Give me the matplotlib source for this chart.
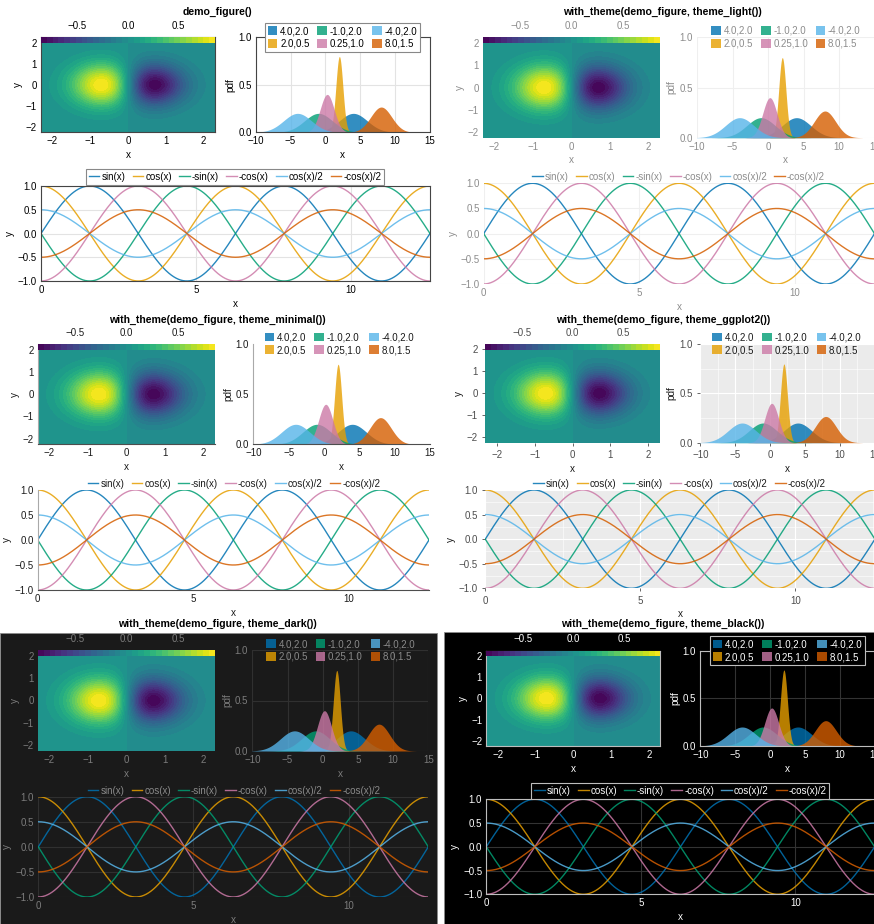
import matplotlib
matplotlib.use('Agg')
import matplotlib.pyplot as plt
from matplotlib.patches import Rectangle, Patch
from matplotlib.lines import Line2D
from matplotlib.ticker import MultipleLocator
import numpy as np

plt.rcParams.update({
    'font.family': ['Liberation Sans', 'DejaVu Sans'],
    'axes.unicode_minus': True,
})

W, H = 874, 924

# Wong palette (Makie default cycle)
WONG = ['#0072B2', '#E69F00', '#009E73', '#CC79A7', '#56B4E9', '#D55E00']

# density series: mean / std as shown in the legend
DENS_MU = [4.0, 2.0, -1.0, 0.25, -4.0, 8.0]
DENS_SD = [2.0, 0.5, 2.0, 1.0, 2.0, 1.5]
DENS_LABELS = ['4.0,2.0', '2.0,0.5', '-1.0,2.0', '0.25,1.0', '-4.0,2.0', '8.0,1.5']
DENS_XTICKS = [-10, -5, 0, 5, 10, 15]
DENS_YTICKS = [0.0, 0.5, 1.0]

# line series
LINE_LABELS = ['sin(x)', 'cos(x)', '-sin(x)', '-cos(x)', 'cos(x)/2', '-cos(x)/2']
LINE_FUNCS = [np.sin, np.cos,
              lambda x: -np.sin(x), lambda x: -np.cos(x),
              lambda x: np.cos(x) / 2, lambda x: -np.cos(x) / 2]
LINE_XMAX = 4 * np.pi
LINE_XTICKS = [0, 5, 10]
LINE_YTICKS = [-1.0, -0.5, 0.0, 0.5, 1.0]

# contour field  f = -A * x * exp(-(x^2 + y^2))
FIELD_AMP = 2.0
CONT_XLIM = 2.3
CONT_YLIM = 2.25
CONT_TICKS = [-2, -1, 0, 1, 2]
CB_TICKS = [-0.5, 0.0, 0.5]
N_LEVELS = 31

THEMES = {
    'default': dict(bg=None, ax_bg='white', tick_label='black', tick_color='black', tick_len=0,
                    label='black', spines={s: '#444444' for s in ('left', 'right', 'top', 'bottom')},
                    grid='#E3E3E3', minor=None, leg_edge='#888888', leg_bg='white', leg_text='black'),
    'light': dict(bg=None, ax_bg='white', tick_label='#8C8C8C', tick_color='#8C8C8C', tick_len=0,
                  label='#8C8C8C', spines={}, grid='#EFEFEF', minor=None,
                  leg_edge=None, leg_bg='none', leg_text='#8C8C8C'),
    'minimal': dict(bg=None, ax_bg='white', tick_label='#1A1A1A', tick_color='#A9A9A9', tick_len=0,
                    label='#1A1A1A', spines={'left': '#A9A9A9', 'bottom': '#4D4D4D'}, grid=None, minor=None,
                    leg_edge=None, leg_bg='none', leg_text='#1A1A1A'),
    'ggplot2': dict(bg=None, ax_bg='#EBEBEB', tick_label='#4D4D4D', tick_color='#4D4D4D', tick_len=2.5,
                    label='#1A1A1A', spines={}, grid='white', minor='white',
                    leg_edge=None, leg_bg='none', leg_text='#1A1A1A'),
    'dark': dict(bg='#1A1A1A', ax_bg='#1A1A1A', tick_label='#7C7C7C', tick_color='#7C7C7C', tick_len=0,
                 label='#7C7C7C', spines={}, grid='#303030', minor=None,
                 leg_edge=None, leg_bg='none', leg_text='#8A8A8A'),
    'black': dict(bg='black', ax_bg='black', tick_label='white', tick_color='white', tick_len=0,
                  label='white', spines={s: '#BDBDBD' for s in ('left', 'right', 'top', 'bottom')},
                  grid='#333333', minor=None, leg_edge='#BDBDBD', leg_bg='black', leg_text='white'),
}

# layout of every sub-figure, pixel boxes (x0, y0, x1, y1)
PANELS = [
    dict(title='demo_figure()', tpos=(217, 12), theme='default', bg=None,
         cont=(41, 37.3, 215, 132.3), cbh=5.4,
         dens=(255.7, 37.3, 430, 132.3), dleg=(342.4, 37.5),
         line=(41, 186, 430, 281), lleg=(235, 176.7)),
    dict(title='with_theme(demo_figure, theme_light())', tpos=(662.7, 12), theme='light', bg=None,
         cont=(483, 37.3, 659.7, 137.7), cbh=5.4,
         dens=(697, 37.3, 874.7, 137.7), dleg=(786, 37.2),
         line=(483.7, 183.3, 874.5, 284), lleg=(678.7, 177.3)),
    dict(title='with_theme(demo_figure, theme_minimal())', tpos=(217.5, 320), theme='minimal', bg=None,
         cont=(37.7, 344, 215, 444.3), cbh=6,
         dens=(253.3, 344, 430, 444.3), dleg=(339.3, 343.7),
         line=(37.7, 490, 429, 590), lleg=(234, 484.3)),
    dict(title='with_theme(demo_figure, theme_ggplot2())', tpos=(662.7, 320), theme='ggplot2', bg=None,
         cont=(485.3, 344, 659.7, 442.7), cbh=6,
         dens=(700.3, 344, 874.5, 442.7), dleg=(787, 343.7),
         line=(485.3, 490, 874.9, 588.3), lleg=(679.3, 484.3)),
    dict(title='with_theme(demo_figure, theme_dark())', tpos=(217.8, 624.3), theme='dark',
         bg=(0, 633.3, 437, 924),
         cont=(37.7, 650, 215, 751), cbh=6,
         dens=(252.3, 650, 428.3, 751), dleg=(340.8, 650.5),
         line=(38.3, 796.7, 428.3, 897), lleg=(234, 790.7)),
    dict(title='with_theme(demo_figure, theme_black())', tpos=(663, 624.3), theme='black',
         bg=(443.7, 632.3, 874, 924),
         cont=(486.3, 650.7, 660.3, 746), cbh=5.6,
         dens=(700.3, 650.7, 874.5, 746), dleg=(787.2, 650.7),
         line=(486.3, 799.3, 874.6, 894.3), lleg=(680.3, 790.8)),
]

FS = 7.0


def fbox(x0, y0, x1, y1):
    return [x0 / W, 1 - y1 / H, (x1 - x0) / W, (y1 - y0) / H]


def fpt(x, y):
    return (x / W, 1 - y / H)


def style_axes(ax, th, grid=True):
    ax.set_facecolor(th['ax_bg'])
    for side in ('left', 'right', 'top', 'bottom'):
        c = th['spines'].get(side)
        ax.spines[side].set_visible(c is not None)
        if c:
            ax.spines[side].set_color(c)
            ax.spines[side].set_linewidth(0.8)
    ax.tick_params(which='both', labelsize=FS, colors=th['tick_color'], labelcolor=th['tick_label'],
                   length=th['tick_len'], width=0.6, pad=3, direction='out')
    ax.tick_params(which='minor', length=0)
    if grid and th['grid']:
        ax.grid(True, which='major', color=th['grid'], lw=0.8)
        if th['minor']:
            ax.grid(True, which='minor', color=th['minor'], lw=0.4)
        ax.set_axisbelow(True)


def make_legend(ax, fig, th, handles, labels, center, ncol, hl, htp, cs):
    leg = ax.legend(handles, labels, loc='center', bbox_to_anchor=fpt(*center),
                    bbox_transform=fig.transFigure, ncol=ncol, fontsize=7,
                    frameon=True, fancybox=False, framealpha=1,
                    facecolor=th['leg_bg'], edgecolor=th['leg_edge'] or 'none',
                    handlelength=hl, handleheight=1.0, handletextpad=htp,
                    columnspacing=cs, labelspacing=0.3, borderpad=0.3,
                    labelcolor=th['leg_text'])
    leg.get_frame().set_linewidth(0.8)
    leg.set_zorder(10)
    return leg


fig = plt.figure(figsize=(W / 100, H / 100), dpi=100)
fig.patch.set_facecolor('white')

# contour grid
gx = np.linspace(-CONT_XLIM, CONT_XLIM, 240)
gy = np.linspace(-CONT_YLIM, CONT_YLIM, 240)
GX, GY = np.meshgrid(gx, gy)
GZ = -FIELD_AMP * GX * np.exp(-(GX ** 2 + GY ** 2))
zmax = FIELD_AMP / np.sqrt(2) * np.exp(-0.5)
levels = np.linspace(-zmax, zmax, N_LEVELS)

lx = np.linspace(0, LINE_XMAX, 500)

for p in PANELS:
    th = THEMES[p['theme']]
    if p['bg']:
        x0, y0, x1, y1 = p['bg']
        r = fbox(x0, y0, x1, y1)
        fig.add_artist(Rectangle((r[0], r[1]), r[2], r[3], transform=fig.transFigure,
                                 facecolor=th['bg'], edgecolor='#8A8A8A', lw=0.6, zorder=-5))
    fig.text(*fpt(*p['tpos']), p['title'], ha='center', va='center',
             fontsize=7.6, fontweight='bold', color='black')

    # --- contour + colorbar
    cx0, cy0, cx1, cy1 = p['cont']
    axc = fig.add_axes(fbox(cx0, cy0, cx1, cy1))
    style_axes(axc, th, grid=False)
    cs = axc.contourf(GX, GY, GZ, levels=levels, cmap='viridis')
    axc.set_xlim(-CONT_XLIM, CONT_XLIM)
    axc.set_ylim(-CONT_YLIM, CONT_YLIM)
    axc.set_xticks(CONT_TICKS)
    axc.set_yticks(CONT_TICKS)
    axc.set_xlabel('x', fontsize=7.2, color=th['label'], labelpad=2.5)
    axc.set_ylabel('y', fontsize=7.2, color=th['label'], labelpad=2)

    cax = fig.add_axes(fbox(cx0, cy0, cx1, cy0 + p['cbh']))
    cb = fig.colorbar(cs, cax=cax, orientation='horizontal', ticks=CB_TICKS)
    cb.outline.set_visible(False)
    cax.xaxis.set_ticks_position('top')
    cax.tick_params(length=0, pad=4.5, labelsize=FS, labelcolor=th['tick_label'])

    # --- densities
    axd = fig.add_axes(fbox(*p['dens']))
    style_axes(axd, th)
    if th['minor']:
        axd.xaxis.set_minor_locator(MultipleLocator(2.5))
        axd.yaxis.set_minor_locator(MultipleLocator(0.25))
    handles = []
    for mu, sd, col in zip(DENS_MU, DENS_SD, WONG):
        xs = np.linspace(mu - 3.5 * sd, mu + 3.5 * sd, 300)
        pdf = np.exp(-0.5 * ((xs - mu) / sd) ** 2) / (sd * np.sqrt(2 * np.pi))
        axd.fill_between(xs, 0, pdf, color=col, alpha=0.8, lw=0)
        handles.append(Patch(facecolor=col, alpha=0.8, edgecolor='none'))
    axd.set_xlim(DENS_XTICKS[0], DENS_XTICKS[-1])
    axd.set_ylim(0, 1.0)
    axd.set_xticks(DENS_XTICKS)
    axd.set_yticks(DENS_YTICKS)
    axd.set_xlabel('x', fontsize=7.2, color=th['label'], labelpad=2.5)
    axd.set_ylabel('pdf', fontsize=7.2, color=th['label'], labelpad=2)
    make_legend(axd, fig, th, handles, DENS_LABELS, p['dleg'], 3, 1.0, 0.27, 0.8)

    # --- lines
    axl = fig.add_axes(fbox(*p['line']))
    style_axes(axl, th)
    if th['minor']:
        axl.xaxis.set_minor_locator(MultipleLocator(2.5))
        axl.yaxis.set_minor_locator(MultipleLocator(0.25))
    lh = []
    for f, col in zip(LINE_FUNCS, WONG):
        axl.plot(lx, f(lx), color=col, lw=1.0, alpha=0.85)
        lh.append(Line2D([0], [0], color=col, lw=1.0, alpha=0.85))
    axl.set_xlim(0, LINE_XMAX)
    axl.set_ylim(-1, 1)
    axl.set_xticks(LINE_XTICKS)
    axl.set_yticks(LINE_YTICKS)
    axl.set_xlabel('x', fontsize=7.2, color=th['label'], labelpad=2.5)
    axl.set_ylabel('y', fontsize=7.2, color=th['label'], labelpad=2)
    make_legend(axl, fig, th, lh, LINE_LABELS, p['lleg'], 6, 1.1, 0.2, 0.75)

fig.savefig('out.png', dpi=100, facecolor='white')
